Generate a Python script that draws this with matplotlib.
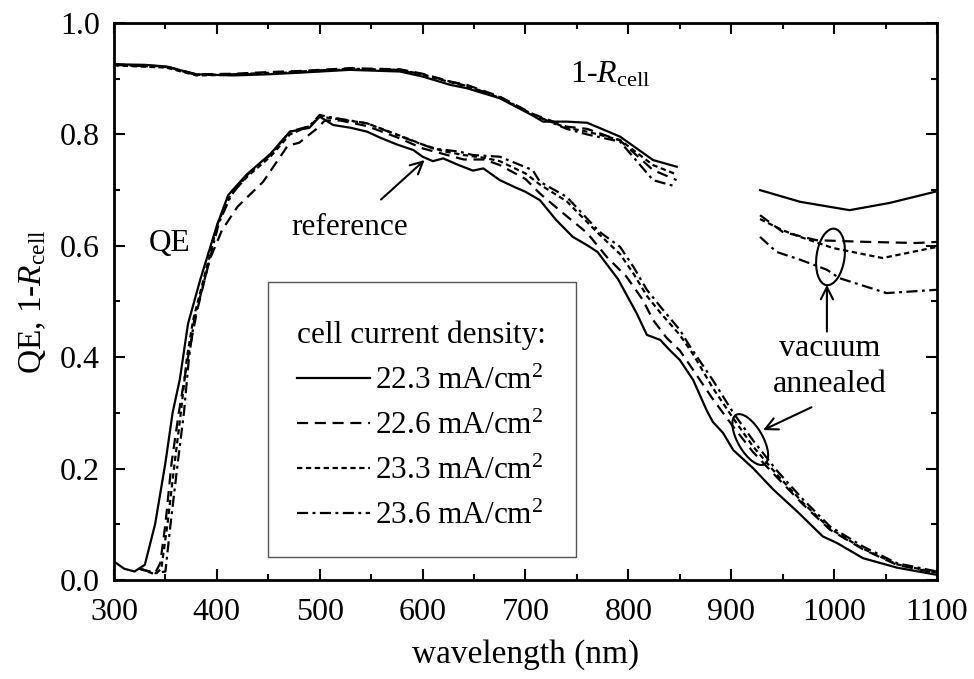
import matplotlib
matplotlib.use("Agg")
import matplotlib.pyplot as plt
from matplotlib.patches import Ellipse, Rectangle
from matplotlib import transforms
from matplotlib.ticker import MultipleLocator

plt.rcParams["font.family"] = ["Liberation Serif", "DejaVu Serif"]
plt.rcParams["mathtext.fontset"] = "custom"
plt.rcParams["mathtext.rm"] = "Liberation Serif"
plt.rcParams["mathtext.it"] = "Liberation Serif:italic"

# legend labels (cell current density, mA/cm2)
labels = ["22.3", "22.6", "23.3", "23.6"]

# QE curves
qe_wl_223 = [300, 310, 320, 330, 340, 350, 357, 364, 372, 384, 400, 411, 429, 452, 471, 490, 500, 513, 530,
             546, 559, 575, 591, 600, 610, 620, 635, 649, 659, 675, 690, 700, 714, 730, 746, 760, 770, 790,
             808, 818, 831, 840, 850, 863, 876, 882, 892, 902, 921, 941, 964, 989, 1003, 1028, 1061, 1100]
qe_223 = [0.033, 0.02, 0.015, 0.027, 0.10, 0.21, 0.30, 0.36, 0.46, 0.54, 0.636, 0.691, 0.728, 0.765, 0.805,
          0.812, 0.832, 0.817, 0.812, 0.805, 0.794, 0.782, 0.772, 0.760, 0.752, 0.757, 0.745, 0.735, 0.739,
          0.718, 0.705, 0.697, 0.682, 0.646, 0.616, 0.601, 0.589, 0.54, 0.479, 0.44, 0.431, 0.413, 0.395,
          0.359, 0.305, 0.284, 0.264, 0.233, 0.201, 0.162, 0.123, 0.078, 0.066, 0.039, 0.022, 0.009]

qe_wl_226 = [325, 340, 345, 350, 356, 363, 372, 381, 393, 405, 420, 445, 469, 480, 490, 497, 505, 520, 546,
             575, 600, 620, 640, 660, 675, 700, 714, 733, 760, 779, 798, 814, 824, 837, 850, 863, 882, 902,
             921, 944, 970, 996, 1028, 1061, 1100]
qe_226 = [0.02, 0.012, 0.03, 0.10, 0.21, 0.30, 0.40, 0.485, 0.575, 0.628, 0.67, 0.715, 0.78, 0.785, 0.80,
          0.81, 0.825, 0.825, 0.815, 0.795, 0.775, 0.765, 0.755, 0.755, 0.745, 0.72, 0.694, 0.664, 0.623,
          0.58, 0.545, 0.503, 0.467, 0.435, 0.412, 0.377, 0.325, 0.275, 0.23, 0.185, 0.135, 0.09, 0.055,
          0.027, 0.012]

qe_wl_233 = [325, 340, 346, 352, 359, 365, 371, 377, 387, 401, 413, 430, 452, 471, 490, 500, 520, 546, 575,
             600, 620, 640, 660, 675, 700, 714, 740, 772, 792, 805, 818, 831, 850, 863, 882, 902, 921, 944,
             970, 996, 1028, 1061, 1100]
qe_233 = [0.02, 0.01, 0.02, 0.10, 0.21, 0.30, 0.40, 0.467, 0.539, 0.641, 0.691, 0.725, 0.76, 0.80, 0.815,
          0.832, 0.827, 0.82, 0.80, 0.782, 0.77, 0.763, 0.758, 0.752, 0.73, 0.71, 0.68, 0.62, 0.585, 0.55,
          0.51, 0.48, 0.44, 0.405, 0.345, 0.29, 0.24, 0.19, 0.138, 0.092, 0.056, 0.028, 0.013]

qe_wl_236 = [325, 340, 350, 355, 362, 368, 373, 378, 388, 402, 414, 430, 452, 471, 490, 500, 507, 546, 575,
             610, 636, 649, 675, 707, 714, 740, 772, 792, 805, 818, 831, 850, 860, 882, 902, 921, 944, 970,
             996, 1028, 1061, 1100]
qe_236 = [0.02, 0.012, 0.015, 0.10, 0.21, 0.30, 0.40, 0.467, 0.539, 0.641, 0.691, 0.728, 0.763, 0.805,
          0.815, 0.835, 0.832, 0.82, 0.799, 0.775, 0.769, 0.763, 0.76, 0.736, 0.715, 0.688, 0.625, 0.598,
          0.562, 0.521, 0.491, 0.449, 0.419, 0.359, 0.30, 0.251, 0.197, 0.144, 0.096, 0.06, 0.030, 0.015]

# 1-R curves, short-wavelength part
r_wl_223 = [300, 330, 351, 380, 416, 450, 481, 529, 578, 600, 627, 643, 675, 707, 717, 740, 760, 792, 824, 847]
r_223 = [0.926, 0.925, 0.922, 0.908, 0.906, 0.908, 0.911, 0.916, 0.913, 0.904, 0.889, 0.883, 0.865, 0.834,
         0.823, 0.823, 0.821, 0.796, 0.754, 0.742]
r_wl_226 = [300, 351, 380, 416, 450, 481, 529, 578, 600, 627, 643, 675, 707, 740, 760, 792, 824, 847]
r_226 = [0.926, 0.922, 0.908, 0.909, 0.912, 0.914, 0.919, 0.917, 0.909, 0.895, 0.889, 0.868, 0.837, 0.814,
         0.81, 0.789, 0.736, 0.718]
r_wl_233 = [300, 351, 380, 416, 481, 529, 578, 600, 643, 675, 707, 740, 760, 792, 824, 847]
r_233 = [0.924, 0.92, 0.906, 0.907, 0.912, 0.917, 0.915, 0.907, 0.886, 0.866, 0.835, 0.812, 0.805, 0.79,
         0.745, 0.728]
r_wl_236 = [300, 351, 380, 416, 481, 529, 578, 600, 643, 675, 707, 740, 760, 792, 824, 847]
r_236 = [0.925, 0.921, 0.907, 0.908, 0.913, 0.918, 0.916, 0.908, 0.887, 0.867, 0.836, 0.81, 0.80, 0.787,
         0.718, 0.706]

# 1-R curves, long-wavelength part
r2_wl_223 = [928, 967, 1015, 1054, 1098]
r2_223 = [0.700, 0.679, 0.664, 0.677, 0.697]
r2_wl_226 = [928, 950, 983, 1032, 1080, 1100]
r2_226 = [0.655, 0.625, 0.610, 0.607, 0.605, 0.607]
r2_wl_233 = [928, 950, 967, 999, 1047, 1100]
r2_233 = [0.648, 0.628, 0.616, 0.596, 0.578, 0.598]
r2_wl_236 = [928, 944, 967, 993, 1005, 1051, 1100]
r2_236 = [0.616, 0.589, 0.575, 0.557, 0.542, 0.515, 0.521]

styles = ["-", (0, (5, 3)), (0, (2.4, 1.6)), (0, (5, 2, 1.3, 2))]
series = [
    (qe_wl_223, qe_223, r_wl_223, r_223, r2_wl_223, r2_223),
    (qe_wl_226, qe_226, r_wl_226, r_226, r2_wl_226, r2_226),
    (qe_wl_233, qe_233, r_wl_233, r_233, r2_wl_233, r2_233),
    (qe_wl_236, qe_236, r_wl_236, r_236, r2_wl_236, r2_236),
]

fig = plt.figure(figsize=(9.74, 6.79), dpi=100)
ax = fig.add_axes([0.117, 0.146, 0.845, 0.82])

lw = 1.6
for (qx, qy, rx, ry, r2x, r2y), ls, lab in zip(series, styles, labels):
    ax.plot(qx, qy, color="black", ls=ls, lw=lw, label=lab + r" mA/cm$^2$")
    ax.plot(rx, ry, color="black", ls=ls, lw=lw)
    ax.plot(r2x, r2y, color="black", ls=ls, lw=lw)

ax.set_xlim(300, 1100)
ax.set_ylim(0.0, 1.0)
ax.xaxis.set_major_locator(MultipleLocator(100))
ax.xaxis.set_minor_locator(MultipleLocator(50))
ax.yaxis.set_major_locator(MultipleLocator(0.2))
ax.yaxis.set_minor_locator(MultipleLocator(0.1))
ax.tick_params(which="both", direction="in", top=True, right=True, width=1.5, labelsize=23)
ax.tick_params(which="major", length=8)
ax.tick_params(which="minor", length=4)
ax.tick_params(axis="x", which="major", pad=13)
ax.tick_params(axis="y", which="major", pad=10)
for sp in ax.spines.values():
    sp.set_linewidth(2)

ax.set_xlabel("wavelength (nm)", fontsize=24, labelpad=9)
ax.set_ylabel(r"QE, 1-$\mathit{R}_{\rm cell}$", fontsize=24, labelpad=9)

# legend frame and entries
ax.add_patch(Rectangle((0.187, 0.041), 0.374, 0.494, transform=ax.transAxes, fill=False,
                       edgecolor="#555555", lw=1.0, zorder=3))
leg = ax.legend(title="cell current density:", loc="upper left", bbox_to_anchor=(0.222, 0.465),
                fontsize=22.5, title_fontsize=22.5, frameon=False, handlelength=2.35,
                handletextpad=0.17, labelspacing=0.5, borderpad=0, borderaxespad=0)
leg._legend_box.align = "left"
leg._legend_box.sep = 12

# annotations
ax.text(743, 0.907, r"1-$\mathit{R}_{\rm cell}$", fontsize=23, ha="left", va="center")
ax.text(354, 0.605, "QE", fontsize=22.5, ha="center", va="center")
ax.annotate("reference", xy=(602, 0.754), xytext=(529, 0.632), fontsize=22.5, ha="center", va="center",
            arrowprops=dict(arrowstyle="->", color="black", lw=1.5, shrinkA=12, shrinkB=0, mutation_scale=22))
ax.text(996, 0.383, "vacuum\nannealed", fontsize=23, ha="center", va="center", linespacing=1.3)
ax.annotate("", xy=(993, 0.53), xytext=(993, 0.446),
            arrowprops=dict(arrowstyle="->", color="black", lw=1.5, shrinkA=0, shrinkB=0, mutation_scale=22))
ax.annotate("", xy=(931, 0.269), xytext=(978, 0.31),
            arrowprops=dict(arrowstyle="->", color="black", lw=1.5, shrinkA=0, shrinkB=0, mutation_scale=22))

for xc, yc, w, h, ang in [(996.5, 0.58, 0.28, 0.57, -8), (918.5, 0.252, 0.57, 0.25, -60)]:
    tr = fig.dpi_scale_trans + transforms.ScaledTranslation(xc, yc, ax.transData)
    ax.add_patch(Ellipse((0, 0), w, h, angle=ang, transform=tr, fill=False, lw=1.5, color="black"))

fig.savefig("out.png", dpi=100)
